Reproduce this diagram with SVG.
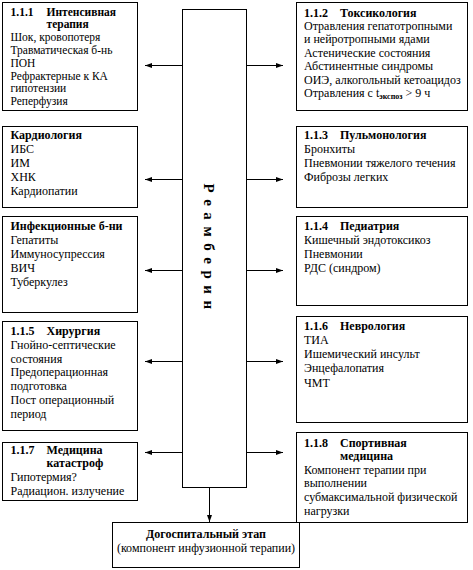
<svg xmlns="http://www.w3.org/2000/svg" width="473" height="570" viewBox="0 0 473 570">
<style>
.box{fill:#fff;stroke:#000;stroke-width:1}
text{font-family:"Liberation Serif","Times New Roman",serif;font-size:12px;fill:#000}
.s{font-size:11.5px}
.b{font-weight:bold}
.c{text-anchor:middle}
.conn line{stroke:#000;stroke-width:1}
</style>
<defs>
<marker id="ah" markerUnits="userSpaceOnUse" markerWidth="7" markerHeight="6" refX="7" refY="3" orient="auto">
<path d="M0,0.5 L7,3 L0,5.5 z" fill="#000"/>
</marker>
</defs>
<rect width="473" height="570" fill="#fff"/>
<g id="connectors" class="conn">
<line x1="182.5" y1="65.5" x2="145" y2="65.5" marker-end="url(#ah)"/>
<line x1="182.5" y1="179.5" x2="145" y2="179.5" marker-end="url(#ah)"/>
<line x1="182.5" y1="270.5" x2="145" y2="270.5" marker-end="url(#ah)"/>
<line x1="182.5" y1="361.5" x2="145" y2="361.5" marker-end="url(#ah)"/>
<line x1="182.5" y1="452.5" x2="145" y2="452.5" marker-end="url(#ah)"/>
<line x1="246.5" y1="65.5" x2="283" y2="65.5" marker-end="url(#ah)"/>
<line x1="246.5" y1="179.5" x2="283" y2="179.5" marker-end="url(#ah)"/>
<line x1="246.5" y1="270.5" x2="283" y2="270.5" marker-end="url(#ah)"/>
<line x1="246.5" y1="361.5" x2="283" y2="361.5" marker-end="url(#ah)"/>
<line x1="246.5" y1="452.5" x2="283" y2="452.5" marker-end="url(#ah)"/>
<line x1="209.5" y1="487.5" x2="209.5" y2="522" marker-end="url(#ah)"/>
</g>
<g id="reamberin">
<rect class="box" x="182.5" y="9.5" width="64" height="478"/>
<text class="b c" transform="translate(203.5,247) rotate(90)" style="font-size:15px;letter-spacing:1.4px">Р е а м б е р и н</text>
</g>
<g id="intensive">
<rect class="box" x="2.5" y="2.5" width="135" height="108"/>
<text class="b s" x="10.5" y="15.5">1.1.1</text><text class="b s" x="46.5" y="15.5">Интенсивная</text>
<text class="b s" x="46.5" y="28.3">терапия</text>
<text class="s" x="10.5" y="41.1">Шок, кровопотеря</text>
<text class="s" x="10.5" y="53.9">Травматическая б-нь</text>
<text class="s" x="10.5" y="66.7">ПОН</text>
<text class="s" x="10.5" y="79.5">Рефрактерные к КА</text>
<text class="s" x="10.5" y="92.3">гипотензии</text>
<text class="s" x="10.5" y="105.1">Реперфузия</text>
</g>
<g id="toxicology">
<rect class="box" x="296.5" y="2.5" width="171" height="108"/>
<text class="b" x="304" y="16.5">1.1.2</text><text class="b" x="340" y="16.5">Токсикология</text>
<text x="304" y="29.9">Отравления гепатотропными</text>
<text x="304" y="43.3">и нейротропными ядами</text>
<text x="304" y="56.7">Астенические состояния</text>
<text x="304" y="70.1">Абстинентные синдромы</text>
<text x="304" y="83.5">ОИЭ, алкогольный кетоацидоз</text>
<text x="304" y="96.9">Отравления с t<tspan class="b" style="font-size:8px" dy="2.5">экспоз</tspan><tspan dy="-2.5"> &gt; 9 ч</tspan></text>
</g>
<g id="cardiology">
<rect class="box" x="2.5" y="126.5" width="135" height="81"/>
<text class="b" x="10.5" y="139">Кардиология</text>
<text x="10.5" y="153">ИБС</text>
<text x="10.5" y="167">ИМ</text>
<text x="10.5" y="181">ХНК</text>
<text x="10.5" y="195">Кардиопатии</text>
</g>
<g id="pulmonology">
<rect class="box" x="296.5" y="126.5" width="171" height="81"/>
<text class="b" x="304" y="139">1.1.3</text><text class="b" x="340" y="139">Пульмонология</text>
<text x="304" y="153">Бронхиты</text>
<text x="304" y="167">Пневмонии тяжелого течения</text>
<text x="304" y="181">Фиброзы легких</text>
</g>
<g id="infectious">
<rect class="box" x="2.5" y="216.5" width="135" height="96"/>
<text class="b" x="10.5" y="230">Инфекционные б-ни</text>
<text x="10.5" y="244">Гепатиты</text>
<text x="10.5" y="258">Иммуносупрессия</text>
<text x="10.5" y="272">ВИЧ</text>
<text x="10.5" y="286">Туберкулез</text>
</g>
<g id="pediatrics">
<rect class="box" x="296.5" y="216.5" width="171" height="89"/>
<text class="b" x="304" y="230">1.1.4</text><text class="b" x="340" y="230">Педиатрия</text>
<text x="304" y="244">Кишечный эндотоксикоз</text>
<text x="304" y="258">Пневмонии</text>
<text x="304" y="272">РДС (синдром)</text>
</g>
<g id="surgery">
<rect class="box" x="2.5" y="321.5" width="135" height="109"/>
<text class="b" x="10.5" y="335">1.1.5</text><text class="b" x="46.5" y="335">Хирургия</text>
<text x="10.5" y="348.8">Гнойно-септические</text>
<text x="10.5" y="362.6">состояния</text>
<text x="10.5" y="376.4">Предоперационная</text>
<text x="10.5" y="390.2">подготовка</text>
<text x="10.5" y="404">Пост операционный</text>
<text x="10.5" y="417.8">период</text>
</g>
<g id="neurology">
<rect class="box" x="296.5" y="316.5" width="171" height="106"/>
<text class="b" x="304" y="329.5">1.1.6</text><text class="b" x="340" y="329.5">Неврология</text>
<text x="304" y="343.8">ТИА</text>
<text x="304" y="358.1">Ишемический инсульт</text>
<text x="304" y="372.4">Энцефалопатия</text>
<text x="304" y="386.7">ЧМТ</text>
</g>
<g id="disaster">
<rect class="box" x="2.5" y="442.5" width="135" height="58"/>
<text class="b" x="10.5" y="453.5">1.1.7</text><text class="b" x="46.5" y="453.5">Медицина</text>
<text class="b" x="46.5" y="467.3">катастроф</text>
<text x="10.5" y="481.1">Гипотермия?</text>
<text x="10.5" y="494.9">Радиацион. излучение</text>
</g>
<g id="sports">
<rect class="box" x="296.5" y="432.5" width="171" height="90"/>
<text class="b" x="304" y="446.5">1.1.8</text><text class="b" x="340" y="446.5">Спортивная</text>
<text class="b" x="340" y="460.1">медицина</text>
<text x="304" y="473.7">Компонент терапии при</text>
<text x="304" y="487.3">выполнении</text>
<text x="304" y="500.9">субмаксимальной физической</text>
<text x="304" y="514.5">нагрузки</text>
</g>
<g id="prehospital">
<rect class="box" x="112.5" y="522.5" width="187" height="45"/>
<text class="b c" x="206" y="538">Догоспитальный этап</text>
<text class="c" x="206" y="552">(компонент инфузионной терапии)</text>
</g>
</svg>
